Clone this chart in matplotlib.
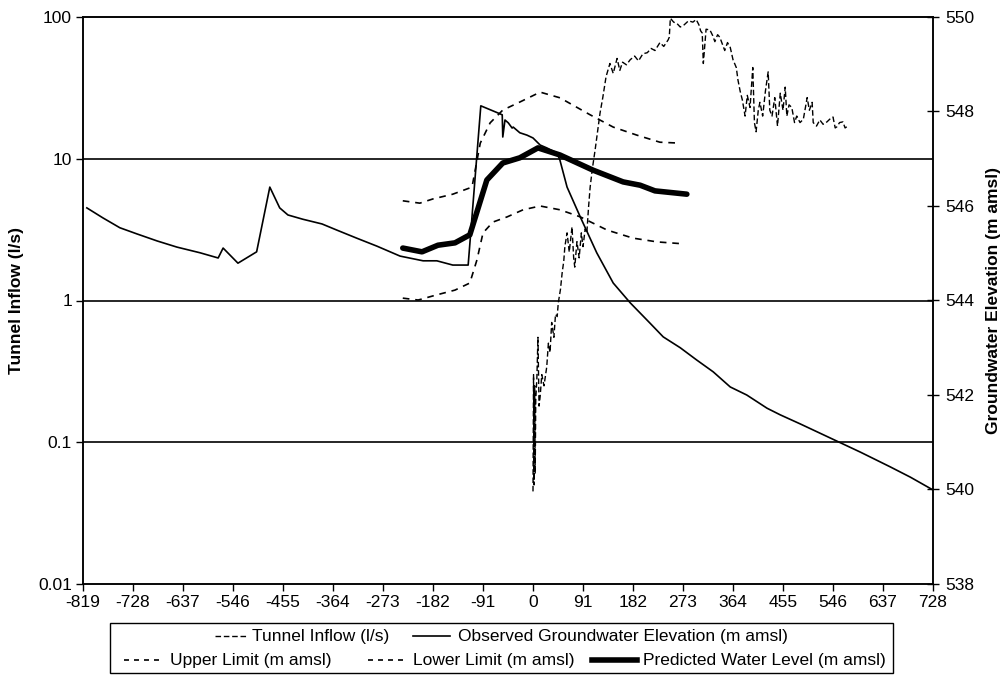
import matplotlib
matplotlib.use('Agg')
import matplotlib.pyplot as plt
from matplotlib.lines import Line2D
from matplotlib.patches import Rectangle
from matplotlib.ticker import FixedLocator, NullLocator

plt.rcParams['font.family'] = ['Liberation Sans', 'DejaVu Sans']

# ---------------- data ----------------
inflow_days = [0, 1, 2, 3, 4, 5, 7, 9, 11, 13,
               16, 20, 25, 28, 31, 34, 38, 41, 44, 46,
               50, 53, 56, 58, 62, 66, 71, 74, 76, 80,
               84, 88, 91, 95, 98, 101, 104, 108, 113, 118,
               122, 127, 133, 140, 146, 153, 158, 163, 170, 177,
               185, 192, 200, 208, 215, 222, 231, 238, 246, 248,
               250, 256, 262, 268, 275, 283, 291, 297, 302, 305,
               308, 310, 315, 322, 327, 331, 336, 340, 345, 349,
               354, 359, 364, 370, 373, 377, 381, 386, 390, 395,
               400, 403, 406, 410, 413, 418, 423, 428, 431, 435,
               440, 445, 450, 455, 459, 462, 466, 471, 476, 480,
               486, 492, 499, 503, 508, 510, 516, 522, 528, 535,
               540, 546, 550, 553, 558, 564, 568, 571]
inflow_ls = [0.045, 0.3, 0.05, 0.25, 0.06, 0.2, 0.28, 0.55, 0.18, 0.21,
             0.3, 0.25, 0.34, 0.5, 0.43, 0.7, 0.55, 0.8, 0.77, 0.96,
             1.2, 1.56, 1.9, 2.4, 3.0, 2.2, 3.3, 2.0, 1.72, 2.6,
             2.0, 3.0, 2.4, 3.2, 3.0, 4.5, 6.3, 8.5, 11.5, 16,
             21, 27, 38, 47, 40, 51, 42, 48, 46, 50,
             53, 49, 55, 56, 60, 58, 66, 62, 69, 72,
             98, 92, 90, 85, 88, 94, 92, 96, 88, 80,
             77, 47, 82, 81, 74, 67, 75, 72, 64, 58,
             66, 61, 50, 44, 36, 30, 26, 20, 28, 23,
             44, 18, 15.5, 22, 25, 20, 30, 41, 22, 20,
             27, 17, 29, 22, 32, 20, 24, 23, 18, 20,
             18, 19, 27, 22, 25, 18, 17, 18.8, 17.5, 18.2,
             19, 19.7, 16.5, 16.8, 18, 18.2, 16.5, 16.8]

obs_days = [-812, -783, -752, -721, -684, -648, -606, -573, -564, -537,
            -503, -479, -461, -446, -419, -384, -357, -321, -284, -242,
            -200, -175, -146, -118, -95, -64, -56, -55, -51, -45,
            -38, -36, -24, -11, 0, 13, 25, 44, 49, 62,
            86, 116, 146, 177, 213, 237, 268, 298, 328, 359,
            389, 426, 450, 486, 541, 596, 650, 687, 728]
obs_elev = [545.96, 545.75, 545.54, 545.41, 545.26, 545.13, 545.01, 544.90, 545.11, 544.79,
            545.03, 546.40, 545.96, 545.81, 545.72, 545.62, 545.49, 545.32, 545.15, 544.94,
            544.84, 544.84, 544.75, 544.75, 548.12, 547.97, 547.93, 547.46, 547.82, 547.76,
            547.65, 547.67, 547.55, 547.50, 547.44, 547.29, 547.23, 547.12, 546.97, 546.40,
            545.77, 545.01, 544.37, 543.95, 543.52, 543.23, 543.00, 542.74, 542.49, 542.17,
            542.00, 541.72, 541.58, 541.39, 541.09, 540.79, 540.48, 540.26, 539.99]

upper_days = [-237, -206, -182, -146, -111, -96, -78, -55, -24, 13, 49, 104, 146, 189, 231, 268]
upper_elev = [546.11, 546.06, 546.15, 546.25, 546.40, 547.33, 547.76, 548.03, 548.20, 548.41,
              548.29, 547.93, 547.67, 547.50, 547.35, 547.33]

lower_days = [-237, -209, -175, -142, -115, -102, -91, -73, -47, -18, 13, 49, 86, 135, 182, 226, 273]
lower_elev = [544.05, 544.01, 544.12, 544.22, 544.37, 544.86, 545.43, 545.66, 545.77, 545.92,
              546.00, 545.92, 545.77, 545.49, 545.32, 545.24, 545.20]

pred_days = [-237, -202, -173, -142, -115, -84, -55, -24, 9, 49, 109, 164, 195, 222, 280]
pred_elev = [545.11, 545.03, 545.17, 545.22, 545.39, 546.55, 546.91, 547.02, 547.23, 547.08,
             546.76, 546.51, 546.44, 546.32, 546.25]

x_ticks = list(range(-819, 729, 91))
left_ticks = [0.01, 0.1, 1, 10, 100]
left_labels = ['0.01', '0.1', '1', '10', '100']
right_ticks = [538, 540, 542, 544, 546, 548, 550]

left_title = 'Tunnel Inflow (l/s)'
right_title = 'Groundwater Elevation (m amsl)'
legend_labels = ['Tunnel Inflow (l/s)', 'Observed Groundwater Elevation (m amsl)',
                 'Upper Limit (m amsl)', 'Lower Limit (m amsl)', 'Predicted Water Level (m amsl)']

# ---------------- figure ----------------
W, H = 1004, 675
fig = plt.figure(figsize=(W / 100, H / 100), dpi=100)
L, R, T, B = 83, 933, 17, 584
ax = fig.add_axes([L / W, 1 - B / H, (R - L) / W, (B - T) / H])
ax2 = ax.twinx()

FS = 12.5
grid_c = '#262626'

# left axis (log)
ax.set_yscale('log')
ax.set_ylim(0.01, 100)
ax.set_xlim(-819, 728)
ax.yaxis.set_major_locator(FixedLocator(left_ticks))
ax.yaxis.set_minor_locator(NullLocator())
ax.set_yticklabels(left_labels)
ax.set_xticks(x_ticks)
ax.set_xticklabels([str(t) for t in x_ticks])
ax.tick_params(axis='both', labelsize=FS, direction='out', length=5, width=1.0, pad=3, colors='black')
for v in [0.1, 1, 10]:
    ax.axhline(v, color=grid_c, lw=1.4, zorder=1)

ax.plot(inflow_days, inflow_ls, color='black', lw=1.0, dashes=(4, 2), zorder=3)

# right axis (linear)
ax2.set_ylim(538, 550)
ax2.set_yticks(right_ticks)
ax2.set_yticklabels([str(t) for t in right_ticks])
ax2.tick_params(axis='y', labelsize=FS, direction='inout', length=9, width=1.0, pad=4, colors='black')

ax2.plot(obs_days, obs_elev, color='black', lw=1.2, zorder=3)
ax2.plot(upper_days, upper_elev, color='black', lw=1.2, dashes=(4, 3.5), zorder=3)
ax2.plot(lower_days, lower_elev, color='black', lw=1.2, dashes=(4, 3.5), zorder=3)
ax2.plot(pred_days, pred_elev, color='black', lw=4.0, solid_capstyle='round',
         solid_joinstyle='round', zorder=4)

for a in (ax, ax2):
    for s in a.spines.values():
        s.set_linewidth(1.1)
        s.set_color('black')
ax.spines['top'].set_color(grid_c)
ax.spines['top'].set_linewidth(1.4)

fig.text(17 / W, 1 - 300 / H, left_title, rotation=90, ha='center', va='center',
         fontsize=FS, fontweight='bold')
fig.text(994 / W, 1 - 300 / H, right_title, rotation=90, ha='center', va='center',
         fontsize=FS, fontweight='bold')

# ---------------- legend (drawn manually) ----------------
def fx(x):
    return x / W

def fy(y):
    return 1 - y / H

fig.add_artist(Rectangle((fx(110), fy(673)), (893 - 110) / W, (673 - 623) / H,
                         transform=fig.transFigure, fill=False, edgecolor='black', lw=1.0))

def handle(x0, x1, y, **kw):
    fig.add_artist(Line2D([fx(x0), fx(x1)], [fy(y), fy(y)], transform=fig.transFigure,
                          color='black', **kw))

r1, r2 = 636, 660
handle(215, 248, r1, lw=1.0, dashes=(4, 2))
fig.text(fx(252), fy(r1), legend_labels[0], ha='left', va='center', fontsize=FS)
handle(413, 450, r1, lw=1.2)
fig.text(fx(458), fy(r1), legend_labels[1], ha='left', va='center', fontsize=FS)

handle(124, 164, r2, lw=1.2, dashes=(3, 3))
fig.text(fx(170), fy(r2), legend_labels[2], ha='left', va='center', fontsize=FS)
handle(368, 407, r2, lw=1.2, dashes=(3, 3))
fig.text(fx(413), fy(r2), legend_labels[3], ha='left', va='center', fontsize=FS)
handle(592, 637, r2, lw=4.0)
fig.text(fx(643), fy(r2), legend_labels[4], ha='left', va='center', fontsize=FS)

fig.savefig('out.png', dpi=100)
